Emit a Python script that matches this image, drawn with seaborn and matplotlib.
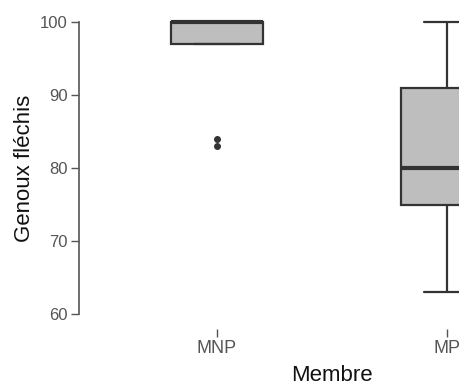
import numpy as np
import pandas as pd
import matplotlib
matplotlib.use("Agg")
import matplotlib.pyplot as plt
import seaborn as sns

# Values
membres = ["MNP", "MP"]
genoux_mnp = [83, 84, 97, 97, 98, 100, 100, 100, 100, 100, 100, 100]
genoux_mp = [63, 70, 75, 78, 80, 85, 91, 95, 100]
y_ticks = [60, 70, 80, 90, 100]

df = pd.DataFrame({
    "Membre": ["MNP"] * len(genoux_mnp) + ["MP"] * len(genoux_mp),
    "Genoux fléchis": genoux_mnp + genoux_mp,
})

sns.set_style("ticks")
plt.rcParams["font.family"] = ["Liberation Sans", "DejaVu Sans"]

fig = plt.figure(figsize=(4.6, 3.85), dpi=100)
# axes runs past the right edge of the figure, like the cropped original
ax = fig.add_axes([79 / 460, 56 / 385, 506 / 460, 321.6 / 385])

edge = "#333333"
sns.boxplot(
    data=df, x="Membre", y="Genoux fléchis", order=membres,
    color="#bebebe", saturation=1, width=0.4, linecolor=edge, linewidth=1.6,
    fliersize=4,
    flierprops=dict(marker="o", markerfacecolor=edge, markeredgecolor=edge),
    medianprops=dict(linewidth=3, color=edge),
    ax=ax,
)

ax.set_xlim(-0.6, 1.6)
ax.set_ylim(60 - 15 / 7.3, 102)
ax.set_yticks(y_ticks)

for side in ["top", "right", "bottom"]:
    ax.spines[side].set_visible(False)
ax.spines["left"].set_bounds(60, 100)
ax.spines["left"].set_color("#555555")
ax.spines["left"].set_linewidth(1.2)

ax.tick_params(axis="both", colors="#555555", labelcolor="#555555",
               length=6, width=1.0, bottom=True, left=True)
ax.tick_params(axis="y", pad=2, labelsize=12)
ax.tick_params(axis="x", pad=2, labelsize=13)

ax.set_xlabel("Membre", fontsize=16, color="#111111", labelpad=6)
ax.set_ylabel("Genoux fléchis", fontsize=16, color="#111111", labelpad=4)

fig.savefig("out.png", dpi=100)
